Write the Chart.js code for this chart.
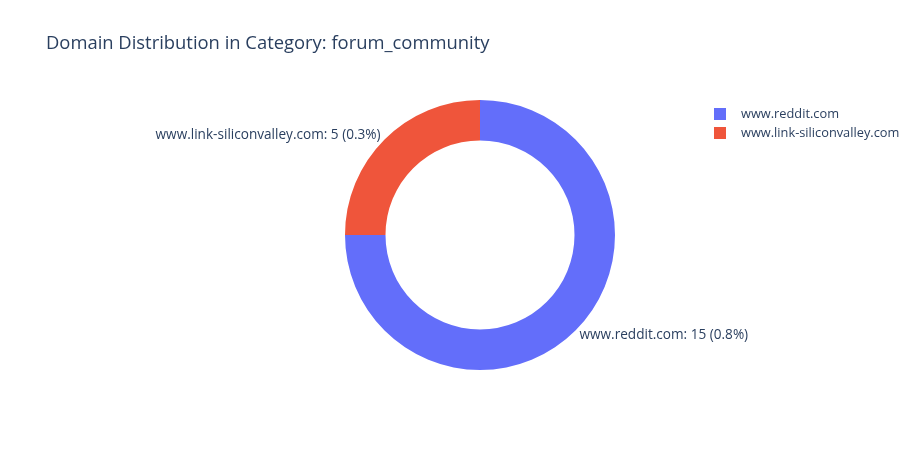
<!DOCTYPE html>
<html>
<head>
<meta charset="utf-8">
<script src="https://cdn.jsdelivr.net/npm/chart.js@4"></script>
<style>
html,body{margin:0;padding:0;background:#fff;}
#wrap{width:918px;height:450px;position:relative;}
</style>
</head>
<body>
<div id="wrap"><canvas id="c" width="918" height="450"></canvas></div>
<script>
const titleText = "Domain Distribution in Category: forum_community";
const domains = ["www.reddit.com", "www.link-siliconvalley.com"];
const counts = [15, 5];
const percentLabels = ["0.8%", "0.3%"];
const colors = ["#636efa", "#ef553b"];

const FONT = '"Open Sans", "Liberation Sans", sans-serif';
const TEXT_COLOR = "#2a3f5f";

const overlay = {
  id: "overlay",
  afterDraw(chart) {
    const ctx = chart.ctx;
    ctx.save();
    // title
    ctx.fillStyle = TEXT_COLOR;
    ctx.font = "18.4px " + FONT;
    ctx.textAlign = "left";
    ctx.textBaseline = "middle";
    ctx.fillText(titleText, 46, 44);

    // outside labels
    ctx.font = "13.6px " + FONT;
    const meta = chart.getDatasetMeta(0);
    meta.data.forEach((arc, i) => {
      const p = arc.getProps(["x", "y", "startAngle", "endAngle", "outerRadius"], true);
      const mid = (p.startAngle + p.endAngle) / 2;
      const px = p.x + Math.cos(mid) * p.outerRadius;
      const py = p.y + Math.sin(mid) * p.outerRadius;
      const right = Math.cos(mid) >= 0;
      const down = Math.sin(mid) >= 0;
      const label = domains[i] + ": " + counts[i] + " (" + percentLabels[i] + ")";
      ctx.textAlign = right ? "left" : "right";
      ctx.fillText(label, px + (right ? 4 : -4), py + (down ? 4.5 : -4.5));
    });

    // legend
    ctx.font = "12.8px " + FONT;
    domains.forEach((d, i) => {
      const y = 114 + i * 19;
      ctx.fillStyle = colors[i];
      ctx.fillRect(714, y - 6, 12, 12);
      ctx.fillStyle = TEXT_COLOR;
      ctx.textAlign = "left";
      ctx.fillText(d, 741, y + 0.5);
    });
    ctx.restore();
  }
};

new Chart(document.getElementById("c"), {
  type: "doughnut",
  data: {
    labels: domains,
    datasets: [{
      data: counts,
      backgroundColor: colors,
      borderWidth: 0,
      hoverOffset: 0
    }]
  },
  options: {
    responsive: false,
    animation: false,
    cutout: "70%",
    layout: { padding: { left: 345, right: 303, top: 100, bottom: 80 } },
    plugins: {
      legend: { display: false },
      title: { display: false },
      tooltip: { enabled: false }
    }
  },
  plugins: [overlay]
});
</script>
</body>
</html>
